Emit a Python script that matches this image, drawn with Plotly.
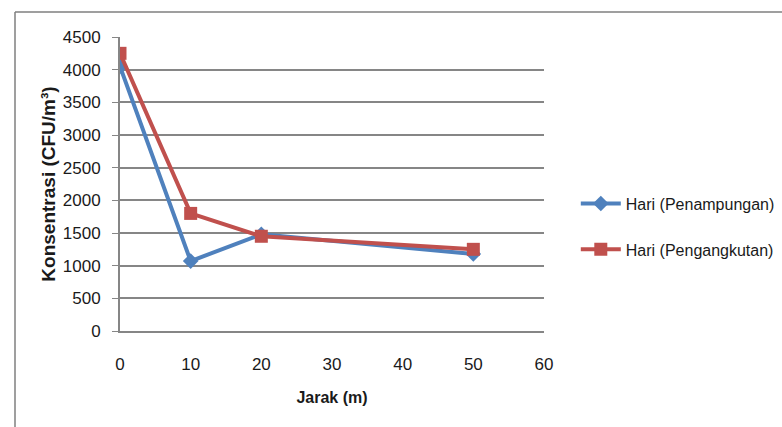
import plotly.graph_objects as go

jarak = [0, 10, 20, 50]
penampungan = [4050, 1070, 1480, 1180]
pengangkutan = [4250, 1800, 1450, 1250]

name_a = "Hari (Penampungan)"
name_b = "Hari (Pengangkutan)"

font_family = "Liberation Sans"

fig = go.Figure()
fig.add_trace(go.Scatter(
    x=jarak, y=penampungan, name=name_a, mode="lines+markers",
    line=dict(color="#4F81BD", width=4),
    marker=dict(symbol="diamond", size=12, color="#4F81BD"),
    legendgroup="a",
))
fig.add_trace(go.Scatter(
    x=jarak, y=pengangkutan, name=name_b, mode="lines+markers",
    line=dict(color="#C0504D", width=4),
    marker=dict(symbol="square", size=13, color="#C0504D"),
    legendgroup="b",
))

# chart-area frame (top and left edges visible)
frame_x = -105 / 424
frame_y = (331 - 12) / 294
fig.add_shape(type="line", xref="paper", yref="paper",
              x0=frame_x, x1=1.6, y0=frame_y, y1=frame_y,
              line=dict(color="#7f7f7f", width=1.5))
fig.add_shape(type="line", xref="paper", yref="paper",
              x0=frame_x, x1=frame_x, y0=frame_y, y1=-0.4,
              line=dict(color="#7f7f7f", width=1.5))

fig.update_layout(
    width=782, height=427,
    margin=dict(l=120, r=238, t=37, b=96, autoexpand=False),
    paper_bgcolor="white", plot_bgcolor="white",
    font=dict(family=font_family, size=17, color="#1a1a1a"),
    showlegend=True,
    legend=dict(x=1.075, y=0.355, xanchor="left", yanchor="middle",
                tracegroupgap=22, traceorder="grouped", itemwidth=40,
                font=dict(size=16), bgcolor="rgba(0,0,0,0)"),
    xaxis=dict(range=[0, 60], tickvals=[0, 10, 20, 30, 40, 50, 60],
               showgrid=False, zeroline=False,
               showline=True, linecolor="#868686", linewidth=2,
               ticks="", ticklen=0, ticklabelstandoff=17,
               tickfont=dict(size=17),
               title=dict(text="<b>Jarak (m)</b>", font=dict(size=16), standoff=18)),
    yaxis=dict(range=[0, 4500], tickvals=list(range(0, 4501, 500)),
               showgrid=True, gridcolor="#868686", gridwidth=1.5,
               zeroline=False, showline=True, linecolor="#868686", linewidth=2,
               ticks="outside", ticklen=6, tickcolor="#868686",
               ticklabelstandoff=8,
               tickfont=dict(size=17),
               title=dict(text="<b>Konsentrasi (CFU/m³)</b>", font=dict(size=19), standoff=2)),
)

fig.write_html("out.html")
